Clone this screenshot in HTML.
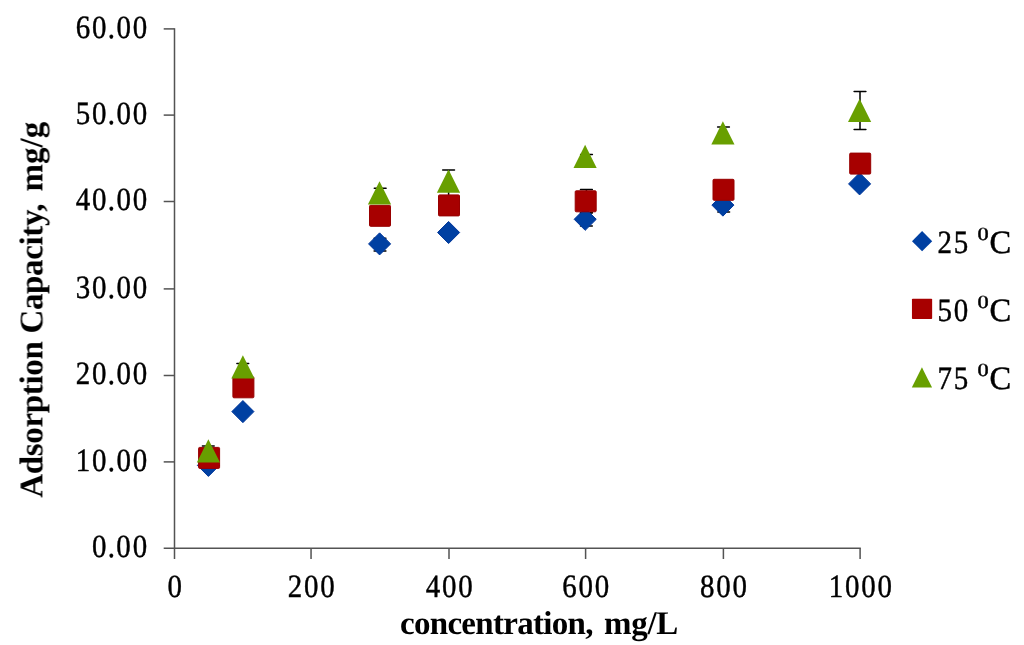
<!DOCTYPE html>
<html><head><meta charset="utf-8"><title>Adsorption Capacity</title>
<style>html,body{margin:0;padding:0;background:#fff;width:1024px;height:645px;overflow:hidden}svg{display:block}</style>
</head><body>
<svg width="1024" height="645" viewBox="0 0 1024 645" text-rendering="geometricPrecision"><rect width="1024" height="645" fill="#fff"/><defs><filter id="b" x="0" y="0" width="100%" height="100%" filterUnits="userSpaceOnUse"><feGaussianBlur stdDeviation="0.45"/></filter></defs><g filter="url(#b)"><g stroke="#525252" stroke-width="1.5" fill="none"><path d="M174.5 28.2V559.0M163.7 548.2H860.8000000000001"/><path d="M163.7 461.9H174.5"/><path d="M163.7 375.5H174.5"/><path d="M163.7 288.9H174.5"/><path d="M163.7 201.5H174.5"/><path d="M163.7 115.1H174.5"/><path d="M163.7 28.9H174.5"/><path d="M311.05 548.2V559.0"/><path d="M449.0 548.2V559.0"/><path d="M585.6 548.2V559.0"/><path d="M723.4 548.2V559.0"/><path d="M860.1 548.2V559.0"/></g><g font-family="'Liberation Serif', 'Times New Roman', serif" font-size="32.5" fill="#000" stroke="#000" stroke-width="0.45"><text transform="translate(91.12 557.00) scale(0.89 1)" x="1.00 18.76 28.39 46.65">0.00</text><text transform="translate(74.88 470.70) scale(0.89 1)" x="1.00 19.26 37.02 46.65 64.91">10.00</text><text transform="translate(74.88 384.30) scale(0.89 1)" x="1.00 19.26 37.02 46.65 64.91">20.00</text><text transform="translate(74.88 297.70) scale(0.89 1)" x="1.00 19.26 37.02 46.65 64.91">30.00</text><text transform="translate(74.88 210.30) scale(0.89 1)" x="1.00 19.26 37.02 46.65 64.91">40.00</text><text transform="translate(74.88 123.90) scale(0.89 1)" x="1.00 19.26 37.02 46.65 64.91">50.00</text><text transform="translate(74.88 37.70) scale(0.89 1)" x="1.00 19.26 37.02 46.65 64.91">60.00</text><text transform="translate(166.57 596.80) scale(0.89 1)" x="1.00">0</text><text transform="translate(286.88 596.80) scale(0.89 1)" x="1.00 19.26 37.52">200</text><text transform="translate(424.82 596.80) scale(0.89 1)" x="1.00 19.26 37.52">400</text><text transform="translate(561.43 596.80) scale(0.89 1)" x="1.00 19.26 37.52">600</text><text transform="translate(699.23 596.80) scale(0.89 1)" x="1.00 19.26 37.52">800</text><text transform="translate(827.80 596.80) scale(0.89 1)" x="1.00 19.26 37.52 55.78">1000</text></g><g font-family="'Liberation Serif', 'Times New Roman', serif" fill="#000" font-weight="bold"><text y="633.5" font-size="33"><tspan x="400.0" textLength="193.5" lengthAdjust="spacing">concentration,</tspan> <tspan x="603.9" textLength="74.4" lengthAdjust="spacing">mg/L</tspan></text><text transform="translate(42.4 0) rotate(-90)" font-size="33"><tspan x="-497.7" textLength="294.3" lengthAdjust="spacing">Adsorption Capacity,</tspan> <tspan x="-191.4" textLength="69.6" lengthAdjust="spacing">mg/g</tspan></text></g><g stroke="#000" stroke-width="1.5" fill="none" stroke-linecap="round"><path d="M208.3 446.0V455.5M202.40 446.0h11.8M202.40 455.5h11.8"/><path d="M242.8 363.5V370.3M236.90 363.5h11.8M236.90 370.3h11.8"/><path d="M380.2 188.2V197.6M374.30 188.2h11.8M374.30 197.6h11.8"/><path d="M380.0 238.2V251.1M374.10 238.2h11.8M374.10 251.1h11.8"/><path d="M448.6 169.9V197.0M442.70 169.9h11.8M442.70 197.0h11.8"/><path d="M586.4 189.5V213.1M580.50 189.5h11.8M580.50 213.1h11.8"/><path d="M586.4 212.5V226.1M580.50 212.5h11.8M580.50 226.1h11.8"/><path d="M723.5 127.0V138.5M717.60 127.0h11.8M717.60 138.5h11.8"/><path d="M723.7 198.3V211.9M717.80 198.3h11.8M717.80 211.9h11.8"/><path d="M860.0 91.6V129.6M854.10 91.6h11.8M854.10 129.6h11.8"/><path d="M580.6 154.5h11.8"/></g><path d="M208.40 454.35L219.45 465.40L208.40 476.45L197.35 465.40Z" fill="#0340A2" stroke="#00379A" stroke-width="1" stroke-linejoin="round"/><path d="M242.90 400.55L253.95 411.60L242.90 422.65L231.85 411.60Z" fill="#0340A2" stroke="#00379A" stroke-width="1" stroke-linejoin="round"/><path d="M379.60 232.85L390.65 243.90L379.60 254.95L368.55 243.90Z" fill="#0340A2" stroke="#00379A" stroke-width="1" stroke-linejoin="round"/><path d="M448.60 221.45L459.65 232.50L448.60 243.55L437.55 232.50Z" fill="#0340A2" stroke="#00379A" stroke-width="1" stroke-linejoin="round"/><path d="M585.20 208.25L596.25 219.30L585.20 230.35L574.15 219.30Z" fill="#0340A2" stroke="#00379A" stroke-width="1" stroke-linejoin="round"/><path d="M722.90 194.05L733.95 205.10L722.90 216.15L711.85 205.10Z" fill="#0340A2" stroke="#00379A" stroke-width="1" stroke-linejoin="round"/><path d="M859.60 172.85L870.65 183.90L859.60 194.95L848.55 183.90Z" fill="#0340A2" stroke="#00379A" stroke-width="1" stroke-linejoin="round"/><rect x="198.60" y="447.40" width="21.00" height="21.00" rx="1.0" fill="#A70000" stroke="#980000" stroke-width="1"/><rect x="232.90" y="376.80" width="21.00" height="21.00" rx="1.0" fill="#A70000" stroke="#980000" stroke-width="1"/><rect x="369.50" y="205.30" width="21.00" height="21.00" rx="1.0" fill="#A70000" stroke="#980000" stroke-width="1"/><rect x="438.50" y="194.90" width="21.00" height="21.00" rx="1.0" fill="#A70000" stroke="#980000" stroke-width="1"/><rect x="575.20" y="190.80" width="21.00" height="21.00" rx="1.0" fill="#A70000" stroke="#980000" stroke-width="1"/><rect x="713.00" y="179.30" width="21.00" height="21.00" rx="1.0" fill="#A70000" stroke="#980000" stroke-width="1"/><rect x="849.70" y="153.10" width="21.00" height="21.00" rx="1.0" fill="#A70000" stroke="#980000" stroke-width="1"/><path d="M208.40 439.20L220.00 462.40L196.80 462.40Z" fill="#689F00"/><path d="M242.90 355.30L254.50 378.50L231.30 378.50Z" fill="#689F00"/><path d="M379.50 181.30L391.10 204.50L367.90 204.50Z" fill="#689F00"/><path d="M448.50 169.50L460.10 192.70L436.90 192.70Z" fill="#689F00"/><path d="M585.10 144.80L596.70 168.00L573.50 168.00Z" fill="#689F00"/><path d="M722.90 121.20L734.50 144.40L711.30 144.40Z" fill="#689F00"/><path d="M859.60 98.80L871.20 122.00L848.00 122.00Z" fill="#689F00"/><path d="M922.10 231.10L932.20 241.20L922.10 251.30L912.00 241.20Z" fill="#0340A2"/><rect x="911.95" y="298.75" width="20.20" height="20.20" rx="0.8" fill="#A70000"/><path d="M921.95 367.30L932.05 387.60L911.85 387.60Z" fill="#689F00"/><g font-family="'Liberation Serif', 'Times New Roman', serif" font-size="32.5" fill="#000" stroke="#000" stroke-width="0.45"><text y="253.40"><tspan x="937.49" textLength="14.46" lengthAdjust="spacingAndGlyphs">2</tspan><tspan x="953.74" textLength="14.46" lengthAdjust="spacingAndGlyphs">5</tspan> <tspan x="977.62" dy="-13.3" font-size="18.6" textLength="11.16" lengthAdjust="spacingAndGlyphs">0</tspan><tspan x="989.6" dy="13.3">C</tspan></text><text y="321.40"><tspan x="937.49" textLength="14.46" lengthAdjust="spacingAndGlyphs">5</tspan><tspan x="953.74" textLength="14.46" lengthAdjust="spacingAndGlyphs">0</tspan> <tspan x="977.62" dy="-13.3" font-size="18.6" textLength="11.16" lengthAdjust="spacingAndGlyphs">0</tspan><tspan x="989.6" dy="13.3">C</tspan></text><text y="389.40"><tspan x="937.49" textLength="14.46" lengthAdjust="spacingAndGlyphs">7</tspan><tspan x="953.74" textLength="14.46" lengthAdjust="spacingAndGlyphs">5</tspan> <tspan x="977.62" dy="-13.3" font-size="18.6" textLength="11.16" lengthAdjust="spacingAndGlyphs">0</tspan><tspan x="989.6" dy="13.3">C</tspan></text></g></g></svg>
</body></html>
